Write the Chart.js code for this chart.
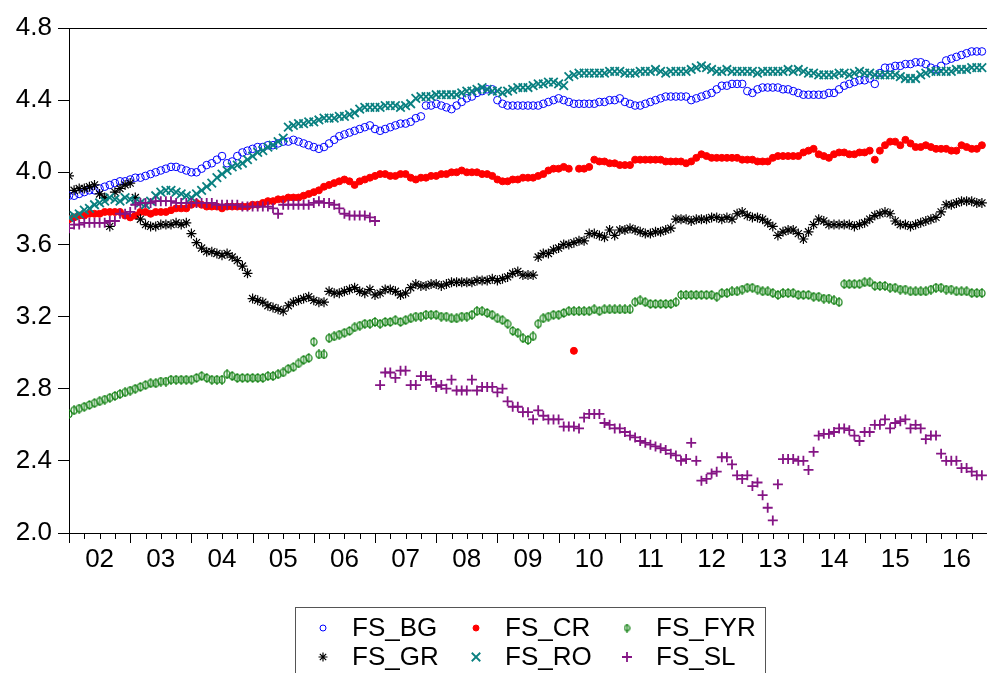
<!DOCTYPE html>
<html>
<head>
<meta charset="utf-8">
<script src="https://cdn.jsdelivr.net/npm/chart.js@4.4.0/dist/chart.umd.min.js"></script>
<style>
  html, body { margin: 0; padding: 0; background: #fff; }
  #wrap { width: 987px; height: 673px; }
</style>
</head>
<body>
<div id="wrap"><canvas id="chartFS" width="987" height="673"></canvas></div>
<script>
// monthly observations 2002M01 - 2016M12
const startYear = 2002;
const yearLabels = ["02", "03", "04", "05", "06", "07", "08", "09", "10", "11", "12", "13", "14", "15", "16"];
const yTickValues = [2.0, 2.4, 2.8, 3.2, 3.6, 4.0, 4.4, 4.8];

const fsBG = [
  3.87, 3.87, 3.88, 3.89, 3.90, 3.90, 3.91, 3.92, 3.93, 3.94, 3.95, 3.95,
  3.96, 3.97, 3.97, 3.98, 3.99, 4.00, 4.01, 4.02, 4.03, 4.03, 4.02, 4.01,
  4.00, 4.00, 4.02, 4.04, 4.05, 4.07, 4.09, 4.05, 4.06, 4.09, 4.11, 4.12,
  4.13, 4.14, 4.14, 4.15, 4.15, 4.16, 4.17, 4.17, 4.18, 4.17, 4.16, 4.15,
  4.14, 4.13, 4.14, 4.16, 4.18, 4.20, 4.21, 4.22, 4.23, 4.24, 4.25, 4.26,
  4.24, 4.23, 4.24, 4.25, 4.26, 4.27, 4.27, 4.28, 4.30, 4.31, 4.37, 4.37,
  4.38, 4.37, 4.36, 4.35, 4.37, 4.39, 4.41, 4.42, 4.44, 4.45, 4.46, 4.46,
  4.40, 4.38, 4.37, 4.37, 4.37, 4.37, 4.37, 4.37, 4.37, 4.38, 4.39, 4.40,
  4.41, 4.40, 4.39, 4.38, 4.38, 4.38, 4.38, 4.38, 4.39, 4.39, 4.40, 4.40,
  4.41, 4.39, 4.38, 4.37, 4.37, 4.38, 4.39, 4.40, 4.41, 4.42, 4.42, 4.42,
  4.42, 4.42, 4.40, 4.41, 4.42, 4.43, 4.44, 4.46, 4.48, 4.48, 4.49, 4.49,
  4.49, 4.45, 4.44, 4.46, 4.47, 4.47, 4.47, 4.47, 4.46, 4.46, 4.45, 4.44,
  4.43, 4.43, 4.43, 4.43, 4.43, 4.44, 4.44, 4.46, 4.48, 4.49, 4.50, 4.51,
  4.51, 4.52, 4.49, 4.55, 4.58, 4.58, 4.59, 4.59, 4.60, 4.60, 4.61, 4.61,
  4.60, 4.58, 4.57, 4.59, 4.62, 4.63, 4.64, 4.65, 4.66, 4.67, 4.67, 4.67
];

const fsCR = [
  3.74, 3.75, 3.76, 3.76, 3.77, 3.77, 3.77, 3.78, 3.78, 3.78, 3.78, 3.76,
  3.75, 3.76, 3.78, 3.78, 3.77, 3.78, 3.78, 3.78, 3.79, 3.80, 3.80, 3.80,
  3.82, 3.83, 3.82, 3.81, 3.81, 3.81, 3.80, 3.81, 3.81, 3.81, 3.81, 3.81,
  3.82, 3.82, 3.83, 3.84, 3.84, 3.85, 3.85, 3.86, 3.86, 3.86, 3.87, 3.88,
  3.89, 3.90, 3.92, 3.93, 3.94, 3.95, 3.96, 3.95, 3.93, 3.95, 3.96, 3.97,
  3.98, 3.99, 3.99, 3.98, 3.98, 3.99, 3.99, 3.97, 3.96, 3.97, 3.97, 3.98,
  3.98, 3.99, 3.99, 4.00, 4.00, 4.01, 4.00, 4.00, 4.00, 3.99, 3.99, 3.98,
  3.96, 3.95, 3.95, 3.96, 3.96, 3.97, 3.97, 3.97, 3.98, 3.99, 4.01, 4.02,
  4.02, 4.03, 4.02, 3.01, 4.02, 4.02, 4.03, 4.07, 4.06, 4.06, 4.05, 4.05,
  4.04, 4.04, 4.04, 4.07, 4.07, 4.07, 4.07, 4.07, 4.07, 4.06, 4.06, 4.06,
  4.06, 4.05, 4.06, 4.08, 4.10, 4.09, 4.08, 4.08, 4.08, 4.08, 4.08, 4.08,
  4.07, 4.07, 4.07, 4.06, 4.06, 4.06, 4.08, 4.09, 4.09, 4.09, 4.09, 4.09,
  4.11, 4.12, 4.13, 4.10, 4.09, 4.08, 4.10, 4.11, 4.11, 4.10, 4.10, 4.11,
  4.11, 4.12, 4.07, 4.12, 4.15, 4.17, 4.17, 4.15, 4.18, 4.16, 4.14, 4.14,
  4.15, 4.14, 4.13, 4.13, 4.13, 4.12, 4.12, 4.15, 4.14, 4.13, 4.13, 4.15
];

const fsFYR = [
  2.66, 2.68, 2.69, 2.70, 2.71, 2.72, 2.73, 2.74, 2.75, 2.76, 2.77, 2.78,
  2.79, 2.80, 2.81, 2.82, 2.83, 2.83, 2.84, 2.84, 2.85, 2.85, 2.85, 2.85,
  2.85, 2.86, 2.87, 2.86, 2.85, 2.85, 2.85, 2.88, 2.87, 2.86, 2.86, 2.86,
  2.86, 2.86, 2.86, 2.87, 2.87, 2.88, 2.89, 2.91, 2.92, 2.94, 2.96, 2.97,
  3.06, 2.99, 2.99, 3.08, 3.09, 3.10, 3.11, 3.12, 3.14, 3.15, 3.16, 3.16,
  3.17, 3.16, 3.17, 3.17, 3.18, 3.17, 3.18, 3.19, 3.20, 3.20, 3.21, 3.21,
  3.21, 3.20, 3.20, 3.19, 3.19, 3.20, 3.20, 3.21, 3.23, 3.23, 3.22, 3.21,
  3.19, 3.18, 3.16, 3.12, 3.11, 3.08, 3.07, 3.09, 3.16, 3.19, 3.20, 3.21,
  3.21, 3.22, 3.23, 3.23, 3.23, 3.23, 3.23, 3.24, 3.23, 3.24, 3.24, 3.24,
  3.24, 3.24, 3.24, 3.28, 3.29, 3.28, 3.27, 3.27, 3.27, 3.27, 3.27, 3.28,
  3.32, 3.32, 3.32, 3.32, 3.32, 3.32, 3.32, 3.31, 3.33, 3.33, 3.34, 3.34,
  3.35, 3.36, 3.36, 3.35, 3.34, 3.34, 3.33, 3.32, 3.33, 3.33, 3.33, 3.32,
  3.32, 3.32, 3.31, 3.31, 3.30, 3.30, 3.29, 3.28, 3.38, 3.38, 3.38, 3.38,
  3.39, 3.39, 3.37, 3.37, 3.37, 3.36, 3.36, 3.35, 3.35, 3.34, 3.34, 3.34,
  3.34, 3.35, 3.36, 3.36, 3.35, 3.35, 3.34, 3.34, 3.34, 3.33, 3.33, 3.33
];

const fsGR = [
  3.98, 3.90, 3.91, 3.91, 3.92, 3.93, 3.88, 3.86, 3.70, 3.89, 3.91, 3.93,
  3.94, 3.86, 3.74, 3.71, 3.70, 3.70, 3.71, 3.71, 3.71, 3.72, 3.71, 3.72,
  3.66, 3.61, 3.58, 3.56, 3.56, 3.55, 3.54, 3.55, 3.53, 3.51, 3.48, 3.44,
  3.30, 3.29, 3.28, 3.26, 3.25, 3.24, 3.23, 3.26, 3.28, 3.29, 3.30, 3.31,
  3.29, 3.28, 3.28, 3.34, 3.33, 3.33, 3.34, 3.35, 3.36, 3.34, 3.33, 3.35,
  3.32, 3.33, 3.35, 3.35, 3.34, 3.32, 3.33, 3.36, 3.38, 3.37, 3.37, 3.38,
  3.38, 3.37, 3.38, 3.39, 3.39, 3.39, 3.39, 3.39, 3.40, 3.40, 3.40, 3.41,
  3.40, 3.41, 3.42, 3.44, 3.45, 3.43, 3.43, 3.43, 3.53, 3.55, 3.55, 3.57,
  3.58, 3.60, 3.60, 3.61, 3.62, 3.62, 3.66, 3.66, 3.65, 3.64, 3.68, 3.65,
  3.68, 3.68, 3.69, 3.68, 3.67, 3.66, 3.66, 3.67, 3.67, 3.68, 3.69, 3.74,
  3.74, 3.74, 3.73, 3.74, 3.74, 3.74, 3.75, 3.75, 3.74, 3.75, 3.74, 3.77,
  3.78, 3.76, 3.75, 3.75, 3.74, 3.72, 3.70, 3.65, 3.67, 3.68, 3.68, 3.66,
  3.63, 3.67, 3.71, 3.74, 3.73, 3.71, 3.71, 3.71, 3.71, 3.71, 3.70, 3.71,
  3.72, 3.74, 3.76, 3.77, 3.78, 3.77, 3.73, 3.71, 3.71, 3.70, 3.71, 3.72,
  3.73, 3.74, 3.75, 3.78, 3.82, 3.82, 3.83, 3.84, 3.84, 3.84, 3.83, 3.83
];

const fsRO = [
  3.75, 3.76, 3.77, 3.79, 3.80, 3.82, 3.83, 3.84, 3.86, 3.85, 3.84, 3.86,
  3.85, 3.84, 3.83, 3.82, 3.84, 3.87, 3.89, 3.90, 3.90, 3.89, 3.88, 3.87,
  3.86, 3.88, 3.90, 3.92, 3.94, 3.97, 3.99, 4.01, 4.03, 4.04, 4.05, 4.07,
  4.09, 4.11, 4.12, 4.14, 4.15, 4.17, 4.19, 4.25, 4.26, 4.27, 4.27, 4.28,
  4.28, 4.29, 4.30, 4.30, 4.30, 4.31, 4.31, 4.32, 4.33, 4.35, 4.36, 4.36,
  4.36, 4.36, 4.37, 4.37, 4.37, 4.36, 4.37, 4.38, 4.41, 4.42, 4.42, 4.42,
  4.43, 4.43, 4.43, 4.43, 4.43, 4.44, 4.45, 4.45, 4.46, 4.47, 4.46, 4.45,
  4.45, 4.44, 4.45, 4.46, 4.47, 4.47, 4.47, 4.48, 4.49, 4.49, 4.50, 4.50,
  4.49, 4.48, 4.53, 4.54, 4.55, 4.55, 4.55, 4.55, 4.55, 4.55, 4.56, 4.56,
  4.56, 4.55, 4.55, 4.55, 4.56, 4.56, 4.56, 4.57, 4.56, 4.55, 4.56, 4.56,
  4.56, 4.56, 4.57, 4.58, 4.59, 4.58, 4.57, 4.56, 4.56, 4.57, 4.56, 4.56,
  4.56, 4.56, 4.56, 4.55, 4.56, 4.56, 4.56, 4.56, 4.56, 4.57, 4.56, 4.57,
  4.56, 4.55, 4.55, 4.54, 4.54, 4.54, 4.54, 4.55, 4.55, 4.54, 4.55, 4.56,
  4.55, 4.55, 4.54, 4.54, 4.54, 4.54, 4.54, 4.53, 4.52, 4.52, 4.52, 4.54,
  4.55, 4.56, 4.56, 4.56, 4.56, 4.56, 4.57, 4.57, 4.57, 4.58, 4.58, 4.58
];

const fsSL = [
  3.69, 3.71, 3.71, 3.72, 3.72, 3.72, 3.72, 3.72, 3.73, 3.73, 3.77, 3.77,
  3.78, 3.82, 3.83, 3.83, 3.83, 3.84, 3.84, 3.84, 3.84, 3.83, 3.83, 3.83,
  3.83, 3.83, 3.83, 3.83, 3.83, 3.82, 3.82, 3.82, 3.82, 3.82, 3.81, 3.81,
  3.81, 3.81, 3.81, 3.81, 3.80, 3.77, 3.82, 3.82, 3.82, 3.82, 3.82, 3.82,
  3.83, 3.84, 3.83, 3.83, 3.82, 3.80, 3.77, 3.76, 3.76, 3.76, 3.76, 3.75,
  3.73, 2.82, 2.89, 2.89, 2.86, 2.90, 2.90, 2.82, 2.82, 2.87, 2.87, 2.85,
  2.81, 2.82, 2.80, 2.85, 2.79, 2.79, 2.79, 2.85, 2.79, 2.81, 2.81, 2.81,
  2.78, 2.80, 2.73, 2.70, 2.70, 2.67, 2.67, 2.63, 2.68, 2.65, 2.63, 2.63,
  2.63, 2.59, 2.59, 2.59, 2.58, 2.64, 2.66, 2.66, 2.66, 2.61, 2.60, 2.58,
  2.58, 2.56, 2.54, 2.53, 2.51, 2.50, 2.49, 2.48, 2.47, 2.46, 2.44, 2.43,
  2.40, 2.41, 2.50, 2.40, 2.29, 2.30, 2.33, 2.34, 2.42, 2.42, 2.38, 2.32,
  2.30, 2.32, 2.26, 2.28, 2.21, 2.14, 2.07, 2.27, 2.41, 2.41, 2.41, 2.40,
  2.40, 2.35, 2.45, 2.54, 2.55, 2.55, 2.56, 2.58, 2.58, 2.57, 2.54, 2.51,
  2.56, 2.56, 2.60, 2.60, 2.63, 2.58, 2.61, 2.62, 2.63, 2.58, 2.60, 2.58,
  2.52, 2.54, 2.54, 2.44, 2.40, 2.40, 2.40, 2.36, 2.36, 2.34, 2.32, 2.32
];

const fontFamily = "'Liberation Sans', Arial, sans-serif";

// open circle with a vertical stroke (phi) for FS_FYR
function makePhi(color, w, h) {
  const c = document.createElement("canvas");
  c.width = w;
  c.height = h;
  const g = c.getContext("2d");
  g.strokeStyle = color;
  g.lineWidth = 1.2;
  g.beginPath();
  g.ellipse(w / 2, h / 2, w / 2 - 1, h / 2 - 1.5, 0, 0, Math.PI * 2);
  g.stroke();
  g.beginPath();
  g.moveTo(w / 2, 0);
  g.lineTo(w / 2, h);
  g.stroke();
  return c;
}

const phiColor = "#0b7d0b";
const phiMark = makePhi(phiColor, 8, 10);
const phiLegend = makePhi(phiColor, 7, 9);

function toPoints(values) {
  return values.map((v, i) => ({ x: startYear + i / 12, y: v }));
}

const series = [
  { label: "FS_BG", values: fsBG, color: "#0000ff", style: "circle", radius: 3.8, fill: "rgba(0,0,0,0)", width: 1, order: 6, legendRadius: 3 },
  { label: "FS_CR", values: fsCR, color: "#ff0000", style: "circle", radius: 3.5, fill: "#ff0000", width: 1, order: 5, legendRadius: 3 },
  { label: "FS_FYR", values: fsFYR, color: phiColor, style: phiMark, radius: 4, fill: "rgba(0,0,0,0)", width: 1, order: 4, legendRadius: 3 },
  { label: "FS_GR", values: fsGR, color: "#000000", style: "star", radius: 5, fill: "#000000", width: 1.2, order: 3, legendRadius: 4.5 },
  { label: "FS_RO", values: fsRO, color: "#0a8080", style: "crossRot", radius: 6, fill: "#0a8080", width: 1.8, order: 2, legendRadius: 6 },
  { label: "FS_SL", values: fsSL, color: "#851585", style: "cross", radius: 5, fill: "#851585", width: 1.8, order: 1, legendRadius: 5 }
];

// frame top line and quarterly ticks on the date axis
const framePlugin = {
  id: "frame",
  afterDraw(chart) {
    const { ctx, chartArea, scales } = chart;
    ctx.save();
    ctx.strokeStyle = "#000";
    ctx.lineWidth = 1;
    ctx.beginPath();
    ctx.moveTo(chartArea.left, chartArea.top + 0.5);
    ctx.lineTo(chartArea.right, chartArea.top + 0.5);
    for (let q = 0; q <= yearLabels.length * 4; q++) {
      const px = Math.round(scales.x.getPixelForValue(startYear + q / 4)) + 0.5;
      const len = q % 4 === 0 ? 10 : 6;
      ctx.moveTo(px, chartArea.bottom);
      ctx.lineTo(px, chartArea.bottom + len);
    }
    ctx.stroke();
    ctx.restore();
  }
};

// boxed legend, three columns by two rows, below the plot
const legendPlugin = {
  id: "boxLegend",
  afterDraw(chart) {
    const ctx = chart.ctx;
    ctx.save();
    ctx.strokeStyle = "#555";
    ctx.lineWidth = 1;
    ctx.strokeRect(295.5, 607.5, 470, 90);
    const cols = [323, 476, 627];
    const rows = [628, 657];
    ctx.font = "26px " + fontFamily;
    ctx.textBaseline = "middle";
    series.forEach((s, i) => {
      const cx = cols[i % 3];
      const cy = rows[Math.floor(i / 3)];
      ctx.strokeStyle = s.color;
      ctx.fillStyle = s.fill;
      ctx.lineWidth = s.width;
      const style = s.style === phiMark ? phiLegend : s.style;
      Chart.helpers.drawPoint(ctx, { pointStyle: style, radius: s.legendRadius, borderWidth: s.width, rotation: 0 }, cx, cy);
      ctx.fillStyle = "#000";
      ctx.fillText(s.label, cx + 29, cy + 1);
    });
    ctx.restore();
  }
};

const ctx = document.getElementById("chartFS").getContext("2d");

new Chart(ctx, {
  type: "line",
  data: {
    datasets: series.map((s) => ({
      label: s.label,
      data: toPoints(s.values),
      showLine: false,
      pointStyle: s.style,
      pointRadius: s.radius,
      pointBorderWidth: s.width,
      pointBorderColor: s.color,
      pointBackgroundColor: s.fill,
      borderColor: s.color,
      backgroundColor: s.fill,
      order: s.order
    }))
  },
  options: {
    responsive: false,
    animation: false,
    devicePixelRatio: 1,
    layout: { autoPadding: false, padding: { top: 28, right: 0, left: 0, bottom: 0 } },
    plugins: {
      legend: { display: false },
      tooltip: { enabled: false }
    },
    scales: {
      x: {
        type: "linear",
        min: startYear,
        max: startYear + yearLabels.length,
        afterBuildTicks: (scale) => {
          scale.ticks = yearLabels.map((_, k) => ({ value: startYear + k + 0.5 }));
        },
        afterFit: (scale) => {
          scale.height = 140;
          scale.paddingLeft = 0;
          scale.paddingRight = 0;
        },
        ticks: {
          autoSkip: false,
          maxRotation: 0,
          padding: 3,
          color: "#000",
          font: { family: fontFamily, size: 26 },
          callback: (v, idx) => yearLabels[idx]
        },
        grid: { display: false },
        border: { display: true, color: "#000", width: 1 }
      },
      y: {
        min: 2.0,
        max: 4.8,
        afterBuildTicks: (scale) => {
          scale.ticks = yTickValues.map((v) => ({ value: v }));
        },
        afterFit: (scale) => {
          scale.width = 69;
          scale.paddingTop = 0;
          scale.paddingBottom = 0;
        },
        ticks: {
          padding: 6,
          color: "#000",
          font: { family: fontFamily, size: 26 },
          callback: (v) => Number(v).toFixed(1)
        },
        grid: { drawOnChartArea: false, drawTicks: true, tickLength: 11, color: "#000" },
        border: { display: true, color: "#000", width: 1 }
      }
    }
  },
  plugins: [framePlugin, legendPlugin]
});
</script>
</body>
</html>
